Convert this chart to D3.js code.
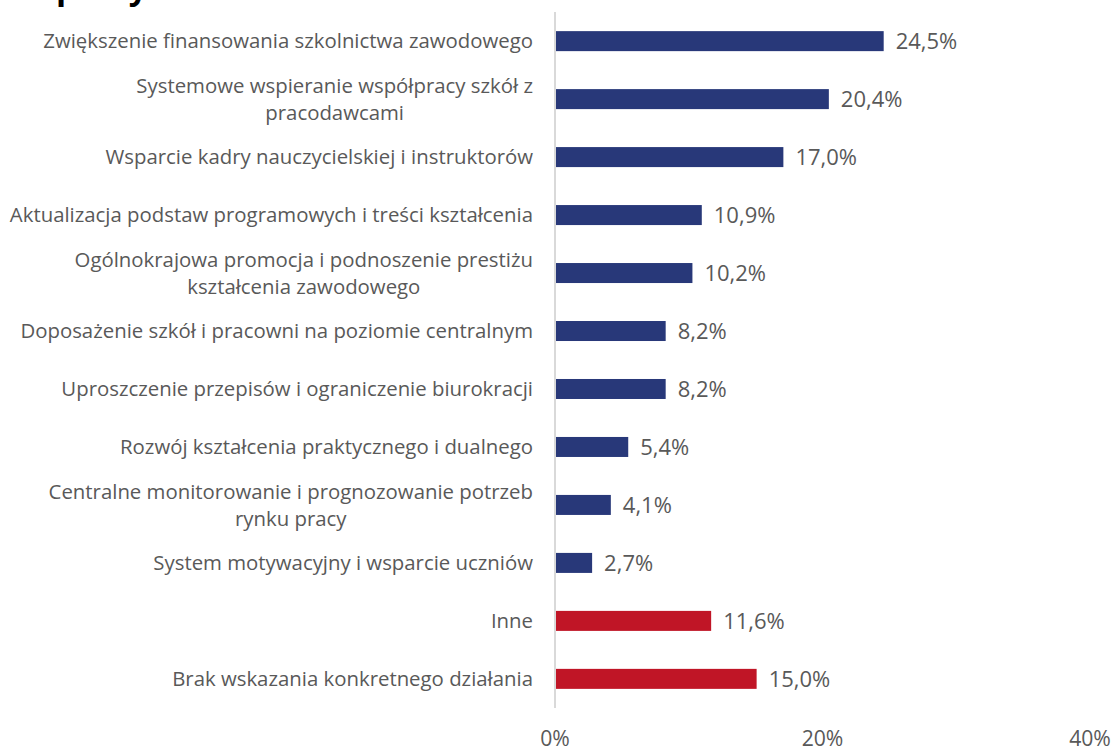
<!DOCTYPE html>
<html>
<head>
<meta charset="utf-8">
<script src="https://cdn.jsdelivr.net/npm/d3@7"></script>
<style>
  body { margin:0; background:#fff; }
  svg text { font-family: "Open Sans", "Noto Sans", sans-serif; }
</style>
</head>
<body>
<script>
// categories (line breaks where the original wraps)
var categories = [
  "Zwiększenie finansowania szkolnictwa zawodowego",
  "Systemowe wspieranie współpracy szkół z\npracodawcami",
  "Wsparcie kadry nauczycielskiej i instruktorów",
  "Aktualizacja podstaw programowych i treści kształcenia",
  "Ogólnokrajowa promocja i podnoszenie prestiżu\nkształcenia zawodowego",
  "Doposażenie szkół i pracowni na poziomie centralnym",
  "Uproszczenie przepisów i ograniczenie biurokracji",
  "Rozwój kształcenia praktycznego i dualnego",
  "Centralne monitorowanie i prognozowanie potrzeb\nrynku pracy",
  "System motywacyjny i wsparcie uczniów",
  "Inne",
  "Brak wskazania konkretnego działania"
];
var values = [24.5, 20.4, 17.0, 10.9, 10.2, 8.2, 8.2, 5.4, 4.1, 2.7, 11.6, 15.0];
var groups = ["m","m","m","m","m","m","m","m","m","m","x","x"];
var ticks = [0, 20, 40];

var W = 1115, H = 748;
var svg = d3.select("body").append("svg")
    .attr("width", W)
    .attr("height", H);

var x = d3.scaleLinear().domain([0, 40]).range([555, 1090]);
var y = d3.scaleBand().domain(categories).range([12, 708]).paddingInner(0.655).paddingOuter(0.33);
var color = {m: "#283879", x: "#C01526"};
var fmt = function(v){ return d3.format(".1f")(v).replace(".", ",") + "%"; };

// cropped title (only descenders visible)
svg.append("text")
    .attr("x", 56).attr("y", -1)
    .attr("font-size", 33).attr("font-weight", "bold")
    .attr("fill", "#000")
    .text("pracy");

// axis line
svg.append("line")
    .attr("x1", x(0)).attr("x2", x(0))
    .attr("y1", 12).attr("y2", 708)
    .attr("stroke", "#d9d9d9").attr("stroke-width", 2);

// bars
svg.selectAll("rect.bar").data(categories).enter().append("rect")
    .attr("class", "bar")
    .attr("x", x(0) + 1)
    .attr("y", function(d){ return y(d); })
    .attr("width", function(d, i){ return x(values[i]) - x(0); })
    .attr("height", y.bandwidth())
    .attr("fill", function(d, i){ return color[groups[i]]; });

// find font size so the first label matches its width in the original
var probe = svg.append("text").attr("font-size", 18).text(categories[0]);
var fs = 18 * 490 / probe.node().getComputedTextLength();
probe.remove();

// category labels
var lab = svg.selectAll("g.lab").data(categories).enter().append("g").attr("class", "lab");
lab.each(function(d){
  var g = d3.select(this);
  var lines = d.split("\n");
  var cy = y(d) + y.bandwidth() / 2;
  var tt = lines.map(function(l, k){
    return g.append("text")
      .attr("font-size", fs)
      .attr("fill", "#595959")
      .attr("dy", "0.35em")
      .attr("y", cy + (k - (lines.length - 1) / 2) * 27)
      .text(l);
  });
  var mw = d3.max(tt, function(t){ return t.node().getComputedTextLength(); });
  tt.forEach(function(t){
    t.attr("text-anchor", "middle").attr("x", 533 - mw / 2);
  });
});

// value labels
svg.selectAll("text.val").data(categories).enter().append("text")
    .attr("class", "val")
    .attr("x", function(d, i){ return x(values[i]) + 13; })
    .attr("y", function(d){ return y(d) + y.bandwidth() / 2; })
    .attr("dy", "0.35em")
    .attr("font-size", fs * 1.08)
    .attr("fill", "#595959")
    .text(function(d, i){ return fmt(values[i]); });

// x tick labels
svg.selectAll("text.tick").data(ticks).enter().append("text")
    .attr("class", "tick")
    .attr("x", function(d){ return x(d); })
    .attr("y", 739)
    .attr("dy", "0.35em")
    .attr("text-anchor", "middle")
    .attr("font-size", fs * 1.04)
    .attr("fill", "#595959")
    .text(function(d){ return d + "%"; });
</script>
</body>
</html>
